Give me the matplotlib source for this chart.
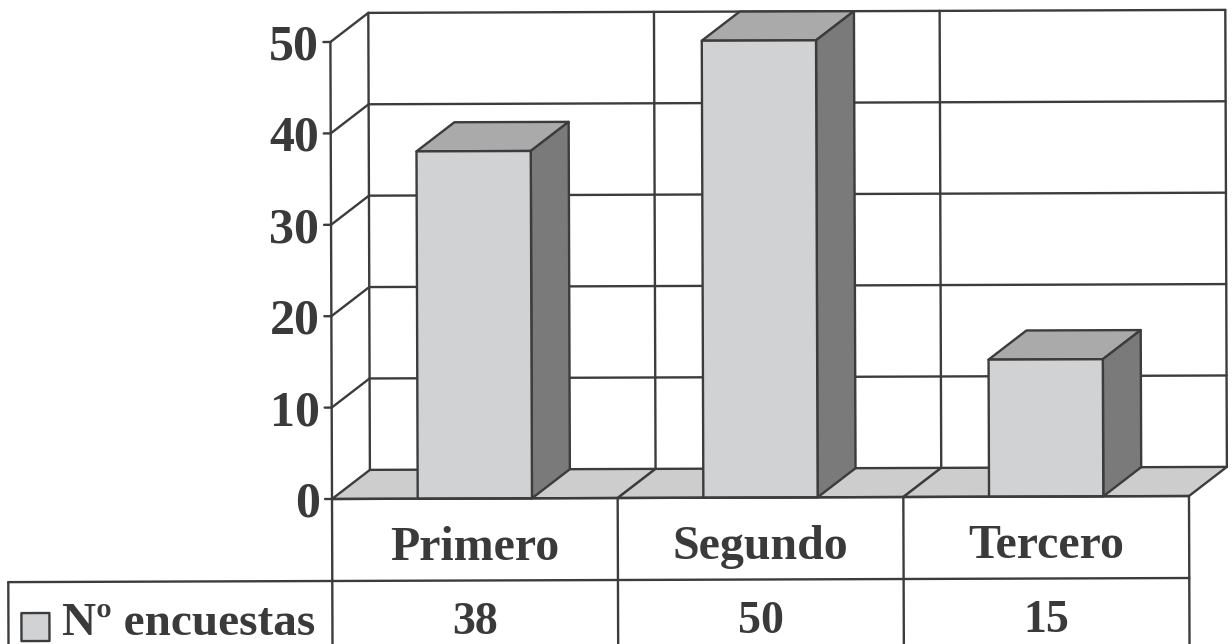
import matplotlib
matplotlib.use("Agg")
import matplotlib.pyplot as plt
from matplotlib.patches import Polygon
from matplotlib.transforms import Affine2D

# Chart data
categories = ["Primero", "Segundo", "Tercero"]
encuestas = [38, 50, 15]
y_ticks = [0, 10, 20, 30, 40, 50]
series_name = "Nº encuestas"

W, H = 1232, 644
LEFT, RIGHT, BASE, TOP50 = 332, 1189, 499, 42   # pixel frame of the front plane
PX_X = (RIGHT - LEFT) / len(categories)
PX_Y = (BASE - TOP50) / 50
DX = 38 / PX_X     # oblique depth in category units
DY = 29 / PX_Y     # oblique depth in value units
BAR_W = 0.4
INK = "#3c3c3c"
TXT = "#3a3a3a"
LW = 1.7

plt.rcParams["font.family"] = ["Liberation Serif", "DejaVu Serif"]
plt.rcParams["font.weight"] = "bold"

fig = plt.figure(figsize=(W / 100, H / 100), dpi=100, facecolor="white")
ax = fig.add_axes([LEFT / W, 1 - BASE / H, (RIGHT - LEFT) / W, (BASE - TOP50) / H])
ax.set_xlim(0, len(categories))
ax.set_ylim(0, 50)
ax.axis("off")

# Slight tilt of the whole drawing, applied on top of the data scales
tr = ax.transData + Affine2D().rotate_deg_around(LEFT, H - BASE, 0.2)


def line(xs, ys, z=2, lw=LW):
    ax.plot(xs, ys, color=INK, lw=lw, transform=tr, clip_on=False, zorder=z,
            solid_capstyle="round")


def face(pts, color, z=3):
    ax.add_patch(Polygon(pts, closed=True, facecolor=color, edgecolor=INK, lw=LW,
                         transform=tr, clip_on=False, zorder=z, joinstyle="round"))


n = len(categories)
ymax = y_ticks[-1]

# Floor, one band per category
for i in range(n):
    face([(i, 0), (i + DX, DY), (i + 1 + DX, DY), (i + 1, 0)], "#cdcdcd", z=1.5)

# Back wall and left wall grid
for v in y_ticks:
    if v > 0:
        line([DX, n + DX], [v + DY, v + DY])
        line([0, DX], [v, v + DY])
for i in range(n + 1):
    line([i + DX, i + DX], [DY, ymax + DY])

# Bars as oblique prisms
for i, v in enumerate(encuestas):
    x0 = i + 0.5 - BAR_W / 2
    x1 = x0 + BAR_W
    face([(x0, v), (x0 + DX, v + DY), (x1 + DX, v + DY), (x1, v)], "#aaaaaa", z=4)
    face([(x1, 0), (x1 + DX, DY), (x1 + DX, v + DY), (x1, v)], "#7a7a7a", z=4)
    face([(x0, 0), (x0, v), (x1, v), (x1, 0)], "#d1d2d4", z=5)

# Value axis with ticks and labels
line([0, 0], [0, ymax], z=6)
for v in y_ticks:
    line([-7 / PX_X, 0], [v, v], z=6)
    ax.text(-12 / PX_X, v, str(v), transform=tr, ha="right", va="center_baseline",
            fontsize=36, color=TXT, zorder=7)

# Data table beneath the plot; rows are measured in value units below the baseline
row1 = -(581 - BASE) / PX_Y
row2 = -(H + 3 - BASE) / PX_Y
legend_left = -(LEFT - 8) / PX_X

line([0, n], [0, 0], z=6)
line([legend_left, n], [row1, row1], z=6)
line([legend_left, legend_left], [row1, row2], z=6)
for i in range(n + 1):
    line([i, i], [0, row2], z=6)

base1 = -(560 - BASE) / PX_Y
base2 = -(634 - BASE) / PX_Y
for i, (c, v) in enumerate(zip(categories, encuestas)):
    ax.text(i + 0.5, base1, c, transform=tr, ha="center", va="baseline",
            fontsize=34.5, color=TXT, zorder=7)
    ax.text(i + 0.5, base2, str(v), transform=tr, ha="center", va="baseline",
            fontsize=33, color=TXT, zorder=7)

# Legend key and series name in the first table cell
kx0, kx1 = -(LEFT - 21) / PX_X, -(LEFT - 49) / PX_X
ky0, ky1 = -(640 - BASE) / PX_Y, -(612 - BASE) / PX_Y
face([(kx0, ky0), (kx0, ky1), (kx1, ky1), (kx1, ky0)], "#d1d2d4", z=7)
ax.text(-(LEFT - 62) / PX_X, base2, series_name, transform=tr, ha="left", va="baseline",
        fontsize=34, color=TXT, zorder=7)

fig.savefig("out.png", dpi=100, facecolor="white")
